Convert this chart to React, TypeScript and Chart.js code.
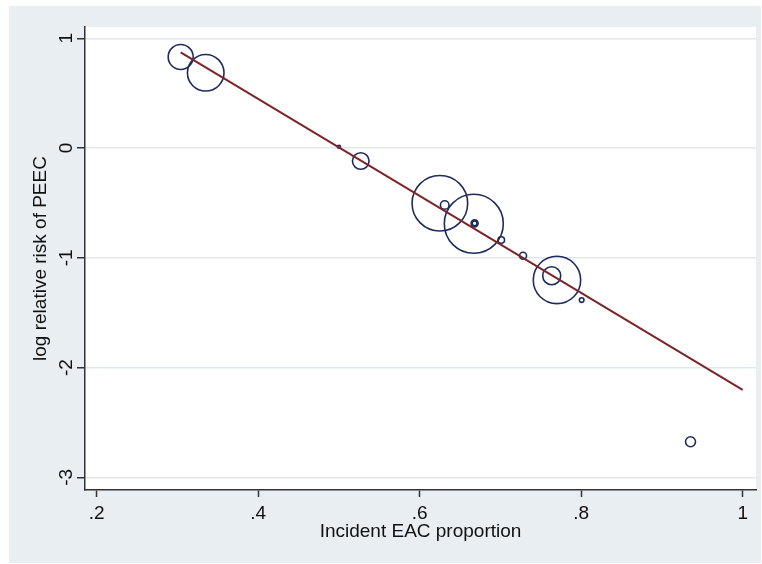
import React, { useEffect, useRef } from 'react';
import { Chart, registerables } from 'chart.js';

Chart.register(...registerables);

// Study estimates (x = incident EAC proportion, y = log relative risk of PEEC)
const studyX = [0.304, 0.335, 0.5, 0.527, 0.625, 0.631, 0.667, 0.668, 0.668, 0.701, 0.728, 0.77, 0.7635, 0.8006, 0.9354];
const studyY = [0.83, 0.686, 0.012, -0.118, -0.503, -0.519, -0.69, -0.686, -0.686, -0.838, -0.981, -1.202, -1.164, -1.385, -2.676];
// Bubble radius (study weight)
const bubbleR = [12.5, 18.3, 1.5, 8.3, 27.8, 4.3, 29.5, 3.5, 2.4, 3.3, 3.5, 23.7, 9, 2.3, 5];

// Fitted meta-regression line end points
const lineX = [0.304, 1.0];
const lineY = [0.872, -2.204];

const xTicks = [0.2, 0.4, 0.6, 0.8, 1];
const xTickLabels = ['.2', '.4', '.6', '.8', '1'];
const yTicks = [-3, -2, -1, 0, 1];
const yTickLabels = ['-3', '-2', '-1', '0', '1'];

const OUTER_BG = '#e8eef1';
const GRID = '#e0e8ee';
const AXIS = '#333333';
const TEXT = '#111111';
const NAVY = '#1e2c5c';
const MAROON = '#7c2426';
const FONT_FAMILY = '"Liberation Sans", Arial, Helvetica, sans-serif';

const bgPlugin = {
  id: 'bgPlugin',
  beforeDraw(chart: any) {
    const { ctx, chartArea: a, width, height } = chart;
    ctx.save();
    ctx.fillStyle = '#ffffff';
    ctx.fillRect(0, 0, width, height);
    ctx.fillStyle = OUTER_BG;
    ctx.fillRect(9, 6, width - 10, height - 7);
    ctx.fillStyle = '#ffffff';
    ctx.fillRect(a.left, a.top, a.right - a.left, a.bottom - a.top);
    ctx.restore();
  },
};

const yLabelPlugin = {
  id: 'yLabelPlugin',
  afterDraw(chart: any) {
    const { ctx } = chart;
    const ys = chart.scales.y;
    ctx.save();
    ctx.font = `19px ${FONT_FAMILY}`;
    ctx.fillStyle = TEXT;
    ctx.textAlign = 'center';
    ctx.textBaseline = 'alphabetic';
    yTicks.forEach((v, i) => {
      const py = ys.getPixelForValue(v);
      ctx.save();
      ctx.translate(71.5, py);
      ctx.rotate(-Math.PI / 2);
      ctx.fillText(yTickLabels[i], 0, 0);
      ctx.restore();
    });
    ctx.restore();
  },
};

export default function App() {
  const ref = useRef<HTMLCanvasElement>(null);

  useEffect(() => {
    const canvas = ref.current;
    if (!canvas) return;
    const bubbles = studyX.map((x, i) => ({ x, y: studyY[i], r: bubbleR[i] }));
    const fit = lineX.map((x, i) => ({ x, y: lineY[i] }));
    const font = { family: FONT_FAMILY, size: 19 };

    const chart = new Chart(canvas, {
      type: 'bubble',
      data: {
        datasets: [
          {
            type: 'line',
            data: fit,
            borderColor: MAROON,
            borderWidth: 2,
            pointRadius: 0,
            fill: false,
            tension: 0,
          } as any,
          {
            type: 'bubble',
            data: bubbles,
            borderColor: NAVY,
            backgroundColor: 'rgba(0,0,0,0)',
            borderWidth: 1.6,
          } as any,
        ],
      },
      options: {
        responsive: false,
        animation: false,
        events: [],
        layout: { autoPadding: false, padding: { left: 0, top: 27, right: 6, bottom: 0 } },
        plugins: { legend: { display: false }, tooltip: { enabled: false } },
        scales: {
          x: {
            type: 'linear',
            min: 0.1855,
            max: 1.0165,
            afterBuildTicks: (s: any) => {
              s.ticks = xTicks.map((v) => ({ value: v }));
            },
            afterFit: (s: any) => {
              s.height = 74;
            },
            ticks: {
              callback: (_v: any, i: number) => xTickLabels[i],
              font,
              color: TEXT,
              padding: 5,
              autoSkip: false,
              maxRotation: 0,
            },
            grid: { drawOnChartArea: false, tickLength: 7, tickColor: AXIS, tickWidth: 1.5 },
            border: { color: AXIS, width: 1.5 },
            title: {
              display: true,
              text: 'Incident EAC proportion',
              font,
              color: TEXT,
              padding: { top: 0, bottom: 21 },
            },
          },
          y: {
            type: 'linear',
            min: -3.1157,
            max: 1.103,
            afterBuildTicks: (s: any) => {
              s.ticks = yTicks.map((v) => ({ value: v }));
            },
            afterFit: (s: any) => {
              s.width = 85;
            },
            ticks: { display: false },
            grid: { color: GRID, lineWidth: 1.5, tickLength: 8, tickColor: AXIS, tickWidth: 1.5 },
            border: { color: AXIS, width: 1.5 },
            title: {
              display: true,
              text: 'log relative risk of PEEC',
              font,
              color: TEXT,
              padding: { top: 29, bottom: 0 },
            },
          },
        },
      } as any,
      plugins: [bgPlugin, yLabelPlugin],
    });
    return () => chart.destroy();
  }, []);

  return (
    <canvas
      ref={ref}
      width={762}
      height={564}
      style={{ position: 'absolute', left: 0, top: 0, display: 'block' }}
    />
  );
}
